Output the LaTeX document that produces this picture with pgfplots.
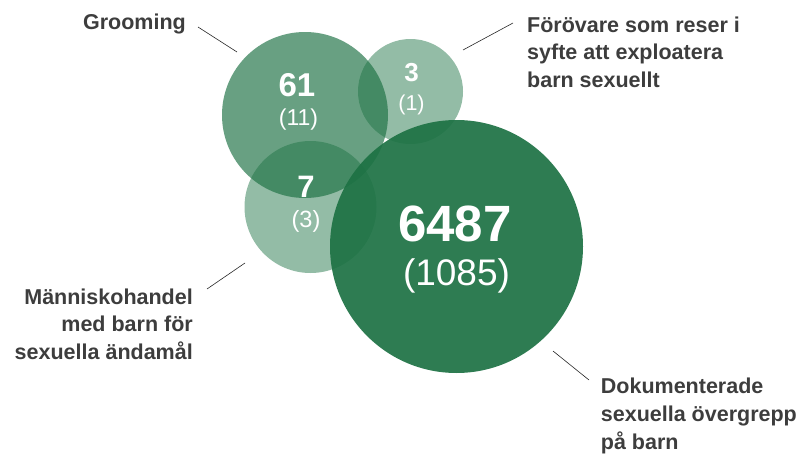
\documentclass[border=0pt]{standalone}
\usepackage{pgfplots}
\pgfplotsset{compat=1.18}
\usepackage{fontspec}
\setmainfont{Liberation Sans}
\definecolor{grn}{RGB}{28,113,67}
\definecolor{lbl}{RGB}{61,61,61}
\newcommand{\fs}[1]{\fontsize{#1}{#1}\selectfont}

\begin{document}
\begin{tikzpicture}
\begin{axis}[
  width=804pt, height=455pt, scale only axis, hide axis,
  xmin=0, xmax=804, ymin=0, ymax=455, y dir=reverse, clip=false,
  bubble/.style={only marks, mark=*, color=grn,
    mark options={fill=grn, draw opacity=0, fill opacity=#1}},
  leader/.style={no marks, draw=black!85, line width=0.6pt},
]
% circles: centre (px), radius in mark size
\addplot[bubble=0.665, mark size=83] coordinates {(305,115)};     % Grooming
\addplot[bubble=0.476, mark size=52.5] coordinates {(410.5,91.5)}; % Förövare
\addplot[bubble=0.476, mark size=66] coordinates {(310.5,207)};    % Människohandel
\addplot[bubble=0.92, mark size=126.5] coordinates {(456.5,246.5)};% Dokumenterade

% leader lines
\addplot[leader] coordinates {(198,27) (237,52)};
\addplot[leader] coordinates {(463,50) (513,23)};
\addplot[leader] coordinates {(207,289) (245,263)};
\addplot[leader] coordinates {(553,351) (589,380)};

% anchor points for the numbers (drawn after the axis, on top)
\coordinate (n1) at (axis cs:297,96.7);
\coordinate (p1) at (axis cs:298.5,125.5);
\coordinate (n2) at (axis cs:411.5,81.7);
\coordinate (p2) at (axis cs:411.5,110.6);
\coordinate (n3) at (axis cs:306,198);
\coordinate (p3) at (axis cs:306,228);
\coordinate (n4) at (axis cs:455,241.7);
\coordinate (p4) at (axis cs:456.5,286);

% labels
\begin{scope}[every node/.style={text=lbl, inner sep=0pt, font=\fs{21.5}\bfseries}]
\node[anchor=base east] at (axis cs:186,30) {Grooming};
\node[anchor=base west] at (axis cs:527,32) {Förövare som reser i};
\node[anchor=base west] at (axis cs:527,59.5) {syfte att exploatera};
\node[anchor=base west] at (axis cs:527,87) {barn sexuellt};
\node[anchor=base east] at (axis cs:193,304.3) {Människohandel};
\node[anchor=base east] at (axis cs:193,331.8) {med barn för};
\node[anchor=base east] at (axis cs:193,359.3) {sexuella ändamål};
\node[anchor=base west] at (axis cs:600.7,393.3) {Dokumenterade};
\node[anchor=base west] at (axis cs:600.7,421.3) {sexuella övergrepp};
\node[anchor=base west] at (axis cs:600.7,449.3) {på barn};
\end{scope}
\end{axis}

\begin{scope}[every node/.style={text=white, anchor=base, inner sep=0pt}]
\node at (n1) {\fs{33}\bfseries 61};
\node at (p1) {\fs{23}(11)};
\node at (n2) {\fs{26}\bfseries 3};
\node at (p2) {\fs{21.5}(1)};
\node at (n3) {\fs{31}\bfseries 7};
\node at (p3) {\fs{23.5}(3)};
\node at (n4) {\fs{51}\bfseries 6487};
\node at (p4) {\fs{37}(1085)};
\end{scope}

\pgfresetboundingbox
\path (current axis.south west) rectangle (current axis.north east);
\end{tikzpicture}
\end{document}
